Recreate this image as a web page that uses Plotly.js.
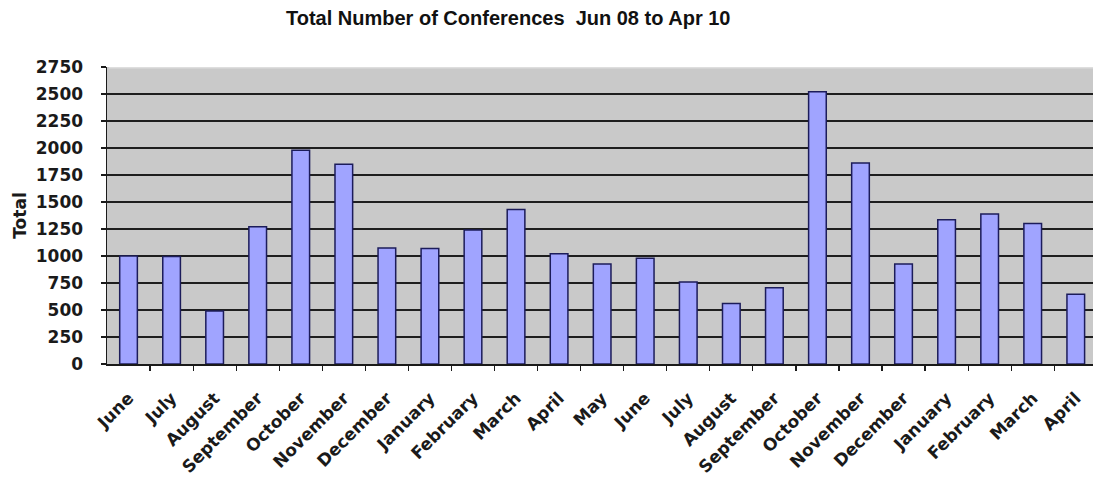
<!DOCTYPE html>
<html>
<head>
<meta charset="utf-8">
<script src="https://cdn.plot.ly/plotly-3.0.1.min.js"></script>
<style>
  html, body { margin: 0; padding: 0; background: #ffffff; }
  #chart { width: 1093px; height: 484px; }
</style>
</head>
<body>
<div id="chart"></div>
<script>
// Monthly conference totals, June 2008 through April 2010
const months = [
  "June", "July", "August", "September", "October", "November", "December",
  "January", "February", "March", "April", "May", "June", "July", "August",
  "September", "October", "November", "December", "January", "February",
  "March", "April"
];
const totals = [
  1000, 995, 490, 1270, 1980, 1850, 1075,
  1070, 1240, 1430, 1020, 925, 980, 760, 560,
  705, 2520, 1860, 925, 1335, 1390, 1300, 645
];
const yTicks = [0, 250, 500, 750, 1000, 1250, 1500, 1750, 2000, 2250, 2500, 2750];

// month names repeat, so bars sit on numeric positions labelled by name
const positions = months.map((_, i) => i);
const boundaries = months.slice(0, -1).map((_, i) => i + 0.5);

const yTickFont = { family: "DejaVu Sans, Verdana, sans-serif", size: 17, color: "#1a1a1a", weight: "bold" };
const xTickFont = { family: "DejaVu Sans, Verdana, sans-serif", size: 17, color: "#1a1a1a", weight: "bold" };

const trace = {
  type: "bar",
  x: positions,
  y: totals,
  marker: {
    color: "#a0a4ff",
    line: { color: "#1c1c5a", width: 1.5 }
  },
  hoverinfo: "skip"
};

const layout = {
  width: 1093,
  height: 484,
  margin: { l: 107, r: 0, t: 67, b: 120 },
  paper_bgcolor: "#ffffff",
  plot_bgcolor: "#c9c9c9",
  bargap: 0.59,
  showlegend: false,
  title: {
    text: "Total Number of Conferences  Jun 08 to Apr 10",
    font: { family: "Liberation Sans, Arial, sans-serif", size: 20, color: "#111111", weight: "bold" },
    xref: "container",
    x: 0.465,
    xanchor: "center",
    yref: "container",
    y: 1 - 18 / 484,
    yanchor: "middle"
  },
  xaxis: {
    range: [-0.5, 22.4],
    tickmode: "array",
    tickvals: positions,
    ticktext: months,
    ticks: "",
    tickangle: -45,
    tickfont: xTickFont,
    ticklabelstandoff: 16,
    showgrid: false,
    zeroline: false,
    showline: true,
    linecolor: "#1a1a1a",
    linewidth: 1.5,
    minor: {
      tickmode: "array",
      tickvals: boundaries,
      ticks: "outside",
      ticklen: 5,
      tickwidth: 1.2,
      tickcolor: "#1a1a1a",
      showgrid: false
    },
    fixedrange: true
  },
  yaxis: {
    range: [0, 2750],
    tickmode: "array",
    tickvals: yTicks,
    ticks: "outside",
    ticklen: 5,
    tickwidth: 1.2,
    tickcolor: "#1a1a1a",
    tickfont: yTickFont,
    ticklabelstandoff: 14,
    showgrid: true,
    gridcolor: "#1e1e1e",
    gridwidth: 1.6,
    zeroline: false,
    showline: true,
    linecolor: "#1a1a1a",
    linewidth: 1.5,
    title: {
      text: "Total",
      font: { family: "DejaVu Sans, Verdana, sans-serif", size: 17, color: "#1a1a1a", weight: "bold" },
      standoff: 5
    },
    fixedrange: true
  },
  shapes: [
    {
      // soft light edge along the top of the plot area
      type: "line",
      xref: "paper", yref: "y",
      x0: 0.002, x1: 1, y0: 2750, y1: 2750,
      line: { color: "#dedede", width: 3 },
      layer: "above"
    }
  ]
};

Plotly.newPlot("chart", [trace], layout, { displayModeBar: false, staticPlot: true });
</script>
</body>
</html>
